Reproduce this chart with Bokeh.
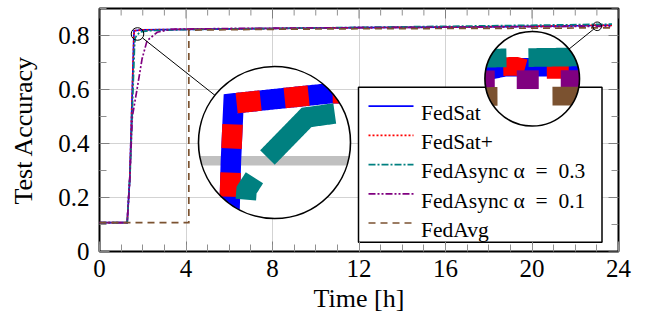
import math
from bokeh.plotting import figure
from bokeh.models import Range1d, FixedTicker
from bokeh.core.properties import value
from bokeh.embed import file_html
from bokeh.resources import INLINE

# ---------------- data ----------------
x_ticks = [0, 4, 8, 12, 16, 20, 24]
x_minor = list(range(0, 25))
y_ticks = [0, 0.2, 0.4, 0.6, 0.8]
y_minor = [0.1, 0.3, 0.5, 0.7, 0.9]

fedsat_t = [0, 1.28, 1.40, 1.59, 1.60, 1.97, 4.0, 8.0, 12.0, 16.0, 20.0, 22.85, 22.9, 23.7]
fedsat_a = [0.107, 0.107, 0.27, 0.80, 0.8176, 0.8207, 0.823, 0.826, 0.829, 0.831, 0.834, 0.8372, 0.838, 0.838]

fedsatp_t = [0, 1.28, 1.40, 1.59, 1.60, 1.97, 4.0, 8.0, 12.0, 16.0, 20.0, 22.95, 23.0, 23.7]
fedsatp_a = [0.107, 0.107, 0.27, 0.80, 0.8176, 0.8207, 0.823, 0.826, 0.829, 0.831, 0.834, 0.8383, 0.8372, 0.8375]

fa03_t = [0, 1.28, 1.42, 1.62, 1.65, 1.73, 1.88, 2.3, 4.0, 8.0, 12.0, 16.0, 20.0, 23.7]
fa03_a = [0.107, 0.107, 0.30, 0.76, 0.791, 0.801, 0.8133, 0.818, 0.822, 0.826, 0.830, 0.834, 0.838, 0.842]

fa01_t = [0, 1.28, 1.40, 1.52, 1.74, 1.97, 2.2, 2.67, 3.3, 6.0, 10.0, 14.0, 18.0, 22.9, 23.7]
fa01_a = [0.107, 0.107, 0.27, 0.50, 0.603, 0.714, 0.781, 0.812, 0.823, 0.826, 0.828, 0.830, 0.832, 0.8338, 0.8338]

fedavg_t = [0, 4.13, 4.13, 8.0, 12.0, 16.0, 20.0, 23.7]
fedavg_a = [0.107, 0.107, 0.820, 0.823, 0.825, 0.826, 0.827, 0.8285]

labels = ["FedSat", "FedSat+", "FedAsync α\u2002=\u20020.3", "FedAsync α\u2002=\u20020.1", "FedAvg"]
series = [(fedsat_t, fedsat_a), (fedsatp_t, fedsatp_a), (fa03_t, fa03_a),
          (fa01_t, fa01_a), (fedavg_t, fedavg_a)]

# ---------------- styles ----------------
colors = ["#0000ff", "#ff0000", "#008080", "#800080", "#7b5230"]
dashes = [[], [2, 2], [7, 2, 2, 2], [7, 2, 2, 2, 2, 2], [7, 5]]
LW = 1.7
FONT = "Liberation Serif"

W, H = 651, 324
LEFT, RIGHT, TOP, BOTTOM = 99, 33, 8, 73
FW, FH = W - LEFT - RIGHT, H - TOP - BOTTOM
X0, X1, Y0, Y1 = 0, 24, 0, 0.9
SX, SY = FW / (X1 - X0), FH / (Y1 - Y0)


def to_scr(x, y):
    return (LEFT + (x - X0) * SX, TOP + FH - (y - Y0) * SY)


def to_dat(sx, sy):
    return (X0 + (sx - LEFT) / SX, Y0 + (TOP + FH - sy) / SY)


def dash_str(d):
    return "solid" if not d else " ".join(str(v) for v in d)


p = figure(width=W, height=H, x_range=Range1d(X0, X1), y_range=Range1d(Y0, Y1),
           output_backend="svg", toolbar_location=None,
           min_border_left=LEFT, min_border_right=RIGHT,
           min_border_top=TOP, min_border_bottom=BOTTOM)
p.background_fill_color = "white"
p.border_fill_color = "white"
p.outline_line_color = "black"
p.outline_line_width = 2

xt = FixedTicker(ticks=x_ticks, minor_ticks=x_minor)
yt = FixedTicker(ticks=y_ticks, minor_ticks=y_minor)
p.xaxis.ticker = xt
p.yaxis.ticker = yt
p.xgrid.ticker = xt
p.ygrid.ticker = yt
p.grid.grid_line_color = "#c8c8c8"
p.grid.grid_line_width = 0.8

MAJ, MIN = 10, 7
for ax in (p.xaxis[0], p.yaxis[0]):
    ax.axis_line_color = None
    ax.major_tick_in = MAJ
    ax.major_tick_out = 0
    ax.minor_tick_in = MIN
    ax.minor_tick_out = 0
    ax.major_tick_line_color = "#808080"
    ax.minor_tick_line_color = "#909090"
    ax.major_label_text_font = FONT
    ax.major_label_text_font_size = "25px"
    ax.major_label_text_color = "black"
    ax.axis_label_text_font = FONT
    ax.axis_label_text_font_size = "26px"
    ax.axis_label_text_font_style = "normal"
    ax.axis_label_text_color = "black"

p.xaxis.axis_label = "Time [h]"
p.yaxis.axis_label = "Test Accuracy"
p.xaxis.major_label_standoff = 8
p.yaxis.major_label_standoff = 10
p.xaxis.axis_label_standoff = 4
p.yaxis.axis_label_standoff = 17
p.yaxis.major_label_overrides = {0: "0"}

# ticks on the top and right edges (mirrored, pointing inwards)
minor_x_only = [v for v in x_minor if v not in x_ticks]
minor_y_only = [v for v in y_minor if v not in y_ticks]
p.segment(x_ticks, [Y1] * len(x_ticks), x_ticks, [Y1 - MAJ / SY] * len(x_ticks),
          line_color="#808080", line_width=1)
p.segment(minor_x_only, [Y1] * len(minor_x_only), minor_x_only,
          [Y1 - MIN / SY] * len(minor_x_only), line_color="#909090", line_width=1)
p.segment([X1] * len(y_ticks), y_ticks, [X1 - MAJ / SX] * len(y_ticks), y_ticks,
          line_color="#808080", line_width=1)
p.segment([X1] * len(minor_y_only), minor_y_only, [X1 - MIN / SX] * len(minor_y_only),
          minor_y_only, line_color="#909090", line_width=1)

# ---------------- main lines ----------------
for (t, a), c, d in zip(series, colors, dashes):
    p.line(t, a, line_color=c, line_width=LW, line_dash=dash_str(d), line_join="miter")

# ---------------- legend (drawn as glyphs so the spy glass can sit on top) ----------------
LG_L, LG_R, LG_T, LG_B = 358, 601.5, 86.7, 241.7
ROW0, PITCH = 105.7, 29.2
ql, qt = to_dat(LG_L, LG_T)
qr, qb = to_dat(LG_R, LG_B)
p.quad(left=[ql], right=[qr], top=[qt], bottom=[qb],
       fill_color="white", line_color="black", line_width=1.5)
for i, (lab, c, d) in enumerate(zip(labels, colors, dashes)):
    yy = ROW0 + PITCH * i
    la, ly = to_dat(368, yy)
    lb, _ = to_dat(413, yy)
    p.line([la, lb], [ly, ly], line_color=c, line_width=LW, line_dash=dash_str(d))
    tx, ty = to_dat(420.5, yy + 6.8)
    p.text([tx], [ty], text=[lab], text_font=value(FONT),
           text_font_size="21.5px", text_color="black", text_baseline="alphabetic",
           text_align="left")


# ---------------- spy glasses (geometry done in screen pixels) ----------------
def mag_runs(xs, ys, cs, cb, mag, lim):
    runs, cur = [], []
    pts = [to_scr(x, y) for x, y in zip(xs, ys)]
    for (ax_, ay_), (bx_, by_) in zip(pts[:-1], pts[1:]):
        A = (cb[0] + mag * (ax_ - cs[0]), cb[1] + mag * (ay_ - cs[1]))
        B = (cb[0] + mag * (bx_ - cs[0]), cb[1] + mag * (by_ - cs[1]))
        L = math.hypot(B[0] - A[0], B[1] - A[1])
        n = max(1, int(L / 1.5))
        for k in range(n + 1):
            t = k / n
            P = (A[0] + (B[0] - A[0]) * t, A[1] + (B[1] - A[1]) * t)
            if math.hypot(P[0] - cb[0], P[1] - cb[1]) <= lim:
                if not cur or math.hypot(P[0] - cur[-1][0], P[1] - cur[-1][1]) > 1e-6:
                    cur.append(P)
            elif cur:
                runs.append(cur)
                cur = []
    if cur:
        runs.append(cur)
    return [r for r in runs if len(r) > 1]


def cumlen(pts):
    s = [0.0]
    for a, b in zip(pts[:-1], pts[1:]):
        s.append(s[-1] + math.hypot(b[0] - a[0], b[1] - a[1]))
    return s


def sub_path(pts, s, a, b):
    out = []
    for i in range(len(pts) - 1):
        s0, s1 = s[i], s[i + 1]
        if s1 < a or s0 > b or s1 - s0 < 1e-9:
            continue
        for sv in (max(a, s0), min(b, s1)):
            t = (sv - s0) / (s1 - s0)
            P = (pts[i][0] + (pts[i + 1][0] - pts[i][0]) * t,
                 pts[i][1] + (pts[i + 1][1] - pts[i][1]) * t)
            if not out or math.hypot(P[0] - out[-1][0], P[1] - out[-1][1]) > 1e-6:
                out.append(P)
    return out


def on_intervals(total, pattern, offset):
    if not pattern:
        return [(0.0, total)]
    T = sum(pattern)
    res = []
    s0 = -(offset % T)
    while s0 < total:
        pos = s0
        for k, L in enumerate(pattern):
            if k % 2 == 0:
                a, b = max(pos, 0.0), min(pos + L, total)
                if b > a:
                    res.append((a, b))
            pos += L
        s0 += T
    return res


def stroke_poly(pts, w):
    h = w / 2
    nr = []
    for a, b in zip(pts[:-1], pts[1:]):
        dx, dy = b[0] - a[0], b[1] - a[1]
        L = math.hypot(dx, dy)
        nr.append((-dy / L, dx / L))
    left, right = [], []
    for i, P in enumerate(pts):
        if i == 0:
            n, f = nr[0], 1.0
        elif i == len(pts) - 1:
            n, f = nr[-1], 1.0
        else:
            n1, n2 = nr[i - 1], nr[i]
            sx_, sy_ = n1[0] + n2[0], n1[1] + n2[1]
            L = math.hypot(sx_, sy_)
            if L < 1e-9:
                n, f = n1, 1.0
            else:
                n = (sx_ / L, sy_ / L)
                f = 1.0 / max(0.25, n[0] * n1[0] + n[1] * n1[1])
        left.append((P[0] + n[0] * h * f, P[1] + n[1] * h * f))
        right.append((P[0] - n[0] * h * f, P[1] - n[1] * h * f))
    return left + right[::-1]


def clip_convex(subject, clip):
    area = sum(clip[i][0] * clip[(i + 1) % len(clip)][1] - clip[(i + 1) % len(clip)][0] * clip[i][1]
               for i in range(len(clip)))
    sgn = 1 if area > 0 else -1

    def inside(P, A, B):
        return sgn * ((B[0] - A[0]) * (P[1] - A[1]) - (B[1] - A[1]) * (P[0] - A[0])) >= 0

    def inter(P, Q, A, B):
        x1, y1, x2, y2 = P[0], P[1], Q[0], Q[1]
        x3, y3, x4, y4 = A[0], A[1], B[0], B[1]
        den = (x1 - x2) * (y3 - y4) - (y1 - y2) * (x3 - x4)
        if abs(den) < 1e-12:
            return Q
        t = ((x1 - x3) * (y3 - y4) - (y1 - y3) * (x3 - x4)) / den
        return (x1 + t * (x2 - x1), y1 + t * (y2 - y1))

    out = subject
    for i in range(len(clip)):
        A, B = clip[i], clip[(i + 1) % len(clip)]
        inp, out = out, []
        if not inp:
            break
        Sp = inp[-1]
        for E in inp:
            if inside(E, A, B):
                if not inside(Sp, A, B):
                    out.append(inter(Sp, E, A, B))
                out.append(E)
            elif inside(Sp, A, B):
                out.append(inter(Sp, E, A, B))
            Sp = E
    return out


def draw_mag(xs, ys, cs, cb, mag, R, color, width, pattern, target):
    circ = [(cb[0] + R * math.cos(2 * math.pi * k / 240), cb[1] + R * math.sin(2 * math.pi * k / 240))
            for k in range(240)]
    patt = [v * mag for v in pattern] if pattern else []
    px_, py_ = [], []
    for run in mag_runs(xs, ys, cs, cb, mag, R + width):
        s = cumlen(run)
        off = 0.0
        if patt and target is not None:
            j = min(range(len(run)), key=lambda i: math.hypot(run[i][0] - target[0], run[i][1] - target[1]))
            off = (-s[j]) % sum(patt)
        for a, b in on_intervals(s[-1], patt, off):
            seg = sub_path(run, s, a, b)
            if len(seg) < 2:
                continue
            poly = clip_convex(stroke_poly(seg, width), circ)
            if len(poly) >= 3:
                dpts = [to_dat(*q) for q in poly]
                px_.append([q[0] for q in dpts])
                py_.append([q[1] for q in dpts])
    if px_:
        p.patches(px_, py_, fill_color=color, line_color=None, level="overlay")


def spy(cs_d, r_small, cb_d, R, targets):
    mag = R / r_small
    cs = to_scr(*cs_d)
    cb = to_scr(*cb_d)
    ddx, ddy = cb[0] - cs[0], cb[1] - cs[1]
    dl = math.hypot(ddx, ddy)
    ux, uy = ddx / dl, ddy / dl
    a = to_dat(cs[0] + r_small * ux, cs[1] + r_small * uy)
    b = to_dat(cb[0] - R * ux, cb[1] - R * uy)
    p.line([a[0], b[0]], [a[1], b[1]], line_color="black", line_width=1, level="overlay")
    p.scatter([cs_d[0]], [cs_d[1]], marker="circle", size=2 * r_small, fill_color=None,
              line_color="black", line_width=1, level="overlay")
    p.scatter([cb_d[0]], [cb_d[1]], marker="circle", size=2 * R, fill_color="white",
              line_color=None, level="overlay")
    for yv in y_ticks:
        draw_mag([X0, X1], [yv, yv], cs, cb, mag, R, "#c0c0c0", 0.8 * mag, [], None)
    for xv in x_ticks:
        draw_mag([xv, xv], [Y0, Y1], cs, cb, mag, R, "#c0c0c0", 0.8 * mag, [], None)
    for i, ((t, av), c, d) in enumerate(zip(series, colors, dashes)):
        draw_mag(t, av, cs, cb, mag, R, c, LW * mag, d, targets.get(i))
    p.scatter([cb_d[0]], [cb_d[1]], marker="circle", size=2 * R, fill_color=None,
              line_color="black", line_width=1.6, level="overlay")


# dash phase anchors (screen px) so the magnified dashes fall where they do in the original
spy((1.757, 0.8056), 6.3, (8.092, 0.4037), 76,
    {1: (230, 197), 2: (266.7, 156.7)})
spy((23.015, 0.8341), 4.3, (20.01, 0.6396), 47.3,
    {1: (502, 67), 2: (528, 55), 3: (560, 80), 4: (552, 92)})

open("out.html", "w").write(file_html(p, INLINE))
